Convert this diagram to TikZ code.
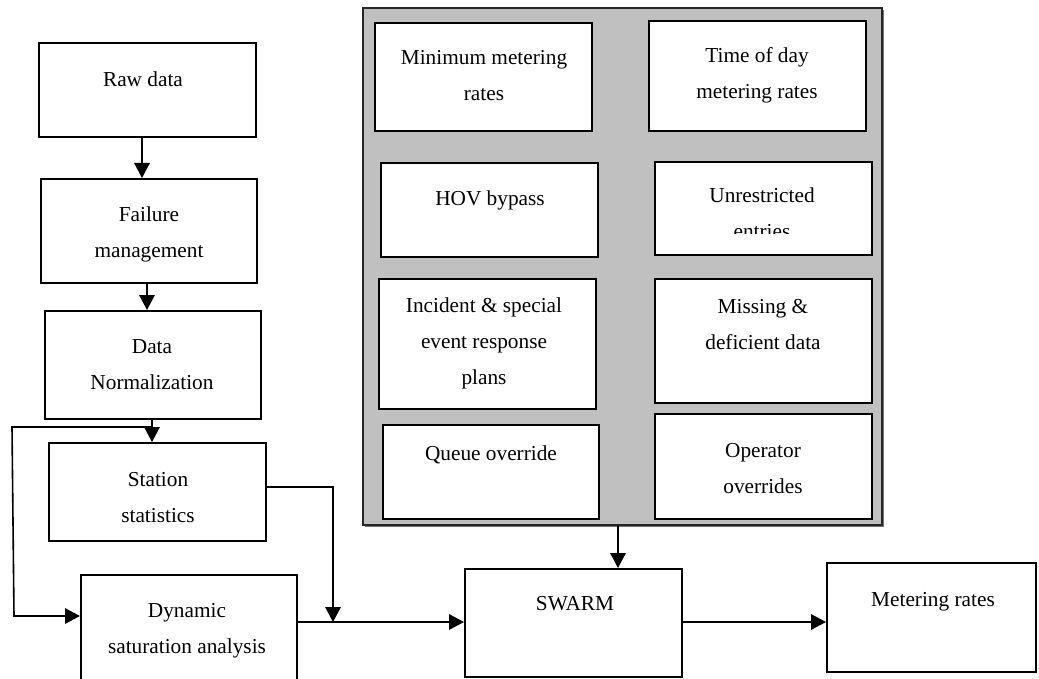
\documentclass[tikz,border=0pt]{standalone}
\usepackage{fontspec}
\setmainfont{Liberation Serif}
\usetikzlibrary{arrows.meta}
\definecolor{panelgray}{HTML}{C0C0C0}
\begin{document}
\begin{tikzpicture}[x=1pt,y=-1pt,
  blk/.style={draw=black, line width=2pt, fill=white, inner sep=0pt},
  % text nodes sit on the baseline of their last line
  lbl/.style={anchor=base, align=center, inner sep=0pt,
    font=\fontsize{21.3}{36}\selectfont},
  arr/.style={line width=1.6pt, -{Triangle[length=15pt,width=15.5pt]}}]
\clip (0,0) rectangle (1039,679);
\fill[white] (0,0) rectangle (1039,679);

% left column
\node[blk, minimum width=217pt, minimum height=94pt]  (raw)  at (147.5,90)  {};
\node[blk, minimum width=216pt, minimum height=104pt] (fail) at (149,231)   {};
\node[blk, minimum width=216pt, minimum height=108pt] (norm) at (153,365)   {};
\node[blk, minimum width=217pt, minimum height=98pt]  (stat) at (157.5,492) {};
\node[blk, minimum width=216pt, minimum height=125pt] (dyn)  at (189,637.5) {};

\node[lbl] (rawT)  at (143,87)  {Raw data};
\node[lbl] (failT) at (149,258) {Failure\\management};
\node[lbl] (normT) at (152,389) {Data\\Normalization};
\node[lbl] (statT) at (158,522) {Station\\statistics};
\node[lbl] (dynT)  at (187,653) {Dynamic\\saturation analysis};

% control panel with its inputs
\fill[black!55] (365,10) rectangle (884,527);
\node[draw=black!85, line width=1.5pt, fill=panelgray, inner sep=0pt,
      minimum width=519pt, minimum height=517pt] (panel) at (622.5,266.5) {};
\node[blk, minimum width=217pt, minimum height=108pt] (minr)  at (483.5,77)  {};
\node[blk, minimum width=217pt, minimum height=110pt] (tod)   at (757.5,76)  {};
\node[blk, minimum width=217pt, minimum height=94pt]  (hov)   at (489.5,210) {};
\node[blk, minimum width=217pt, minimum height=93pt]  (unr)   at (763.5,208.5) {};
\node[blk, minimum width=217pt, minimum height=130pt] (inc)   at (487.5,344) {};
\node[blk, minimum width=217pt, minimum height=124pt] (miss)  at (763.5,341) {};
\node[blk, minimum width=216pt, minimum height=94pt]  (queue) at (491,472)   {};
\node[blk, minimum width=217pt, minimum height=105pt] (oper)  at (763.5,466.5) {};

\node[lbl] (minrT)  at (484,101) {Minimum metering\\rates};
\node[lbl] (todT)   at (757,99)  {Time of day\\metering rates};
\node[lbl] (hovT)   at (490,206) {HOV bypass};
\begin{scope}
  \clip (655,162) rectangle (872,234);
  \node[lbl] (unrT) at (762,239) {Unrestricted\\entries};
\end{scope}
\node[lbl] (incT)   at (484,384) {Incident \& special\\event response\\plans};
\node[lbl] (missT)  at (763,349) {Missing \&\\deficient data};
\node[lbl] (queueT) at (491,460) {Queue override};
\node[lbl] (operT)  at (763,493) {Operator\\overrides};

% processing and output
\node[blk, minimum width=217pt, minimum height=108pt] (swarm) at (573.5,623) {};
\node[blk, minimum width=209pt, minimum height=109pt] (meter) at (931.5,617.5) {};
\node[lbl] (swarmT) at (575,610) {SWARM};
\node[lbl] (meterT) at (933,606) {Metering rates};

% connectors
\coordinate (j1) at (152,427);
\coordinate (j2) at (333,622);
\coordinate (fbA) at (12,427);
\coordinate (fbB) at (14,616);
\coordinate (pa) at (618,0);

\draw[arr] ([xshift=-5.5pt]raw.south) -- ([xshift=-7pt]fail.north);
\draw[arr] ([xshift=-2pt]fail.south) -- ([xshift=-6pt]norm.north);
\draw[arr] ([xshift=-1pt]norm.south) -- ([xshift=-5.5pt]stat.north);
\draw[arr] (j1) -- (fbA) -- (fbB) -- (fbB -| dyn.west);
\draw[arr] ([yshift=5pt]stat.east) -| (j2);
\draw[arr] (dyn.east |- j2) -- (swarm.west |- j2);
\draw[arr] (panel.south -| pa) -- (swarm.north -| pa);
\draw[arr] (swarm.east |- j2) -- (meter.west |- j2);
\end{tikzpicture}
\end{document}
